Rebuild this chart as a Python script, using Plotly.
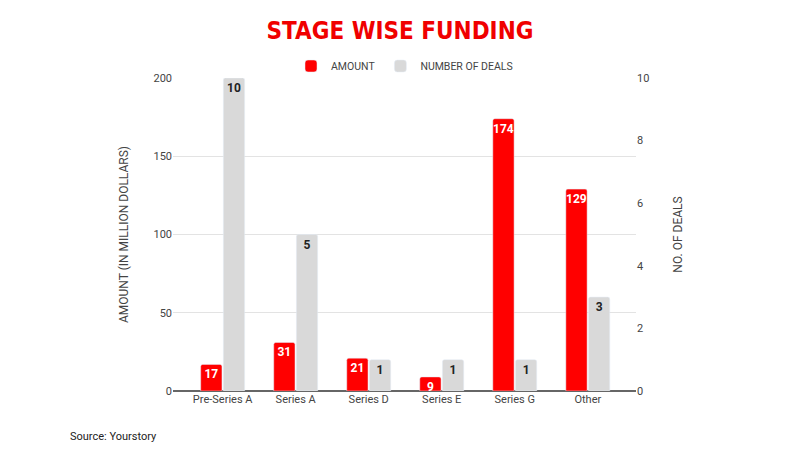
import plotly.graph_objects as go

categories = ["Pre-Series A", "Series A", "Series D", "Series E", "Series G", "Other"]
amount = [17, 31, 21, 9, 174, 129]
deals = [10, 5, 1, 1, 1, 3]
left_ticks = [0, 50, 100, 150, 200]
right_ticks = [0, 2, 4, 6, 8, 10]

RED = "#ff0000"
GRAY = "#d9d9d9"
FONT = "Roboto, Arial, sans-serif"

fig = go.Figure()
fig.add_trace(go.Bar(
    x=categories, y=amount, name="AMOUNT", marker_color=RED,
    text=[str(v) for v in amount], textposition="inside", insidetextanchor="end",
    textangle=0, constraintext="none", cliponaxis=False,
    textfont=dict(color="white", size=12, family=FONT, weight="bold"),
    offsetgroup=0, yaxis="y",
))
fig.add_trace(go.Bar(
    x=categories, y=deals, name="NUMBER OF DEALS", marker_color=GRAY,
    text=[str(v) for v in deals], textposition="inside", insidetextanchor="end",
    textangle=0, constraintext="none", cliponaxis=False,
    textfont=dict(color="#222222", size=12, family=FONT, weight="bold"),
    offsetgroup=1, yaxis="y2",
))

fig.update_layout(
    width=800, height=450,
    margin=dict(l=173, r=164, t=78, b=59, autoexpand=False),
    paper_bgcolor="white", plot_bgcolor="white",
    barmode="group", bargap=0.38, bargroupgap=0.06,
    barcornerradius=2,
    font=dict(family=FONT, color="#444444", size=11),
    title=dict(text="<b>STAGE WISE FUNDING</b>", x=0.5, xanchor="center",
               y=1 - 31 / 450, yanchor="middle",
               font=dict(family="DejaVu Sans Condensed, Liberation Sans Narrow, sans-serif",
                         size=24, color="#f00000")),
    legend=dict(orientation="h", x=0.5, xanchor="center", yref="container",
                y=1 - 66 / 450, yanchor="middle",
                font=dict(size=10.5, color="#444444"), itemwidth=30,
                traceorder="normal"),
    xaxis=dict(range=[-0.68, 5.66], showgrid=False, ticks="", showline=False,
               tickfont=dict(size=11, color="#444444")),
    yaxis=dict(range=[0, 200], tickvals=left_ticks, showgrid=True, gridcolor="#e3e3e3",
               gridwidth=1, zeroline=True, zerolinecolor="#666666", zerolinewidth=1.5,
               ticks="", tickfont=dict(size=11, color="#444444"),
               title=dict(text="AMOUNT (IN MILLION DOLLARS)", standoff=22,
                          font=dict(size=12, color="#444444"))),
    yaxis2=dict(range=[0, 10], tickvals=right_ticks, overlaying="y", side="right",
                showgrid=False, zeroline=False, ticks="",
                tickfont=dict(size=11, color="#444444"),
                title=dict(text="NO. OF DEALS", standoff=25,
                           font=dict(size=12, color="#444444"))),
    annotations=[dict(text="Source: Yourstory", xref="paper", yref="paper",
                      x=(68 - 173) / 463, y=(391 - 436) / 313, xanchor="left",
                      yanchor="middle", showarrow=False,
                      font=dict(size=11, color="#222222"))],
)

fig.write_html("out.html")
